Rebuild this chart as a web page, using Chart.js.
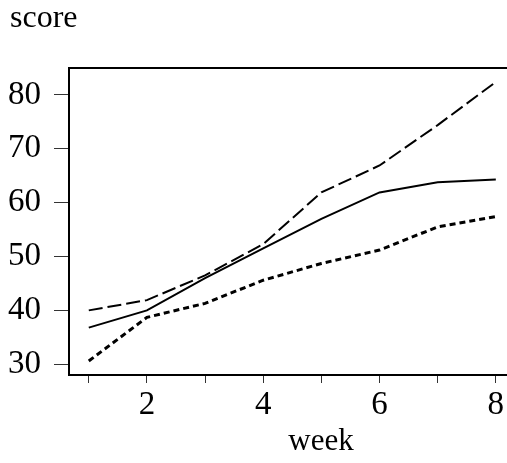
<!DOCTYPE html>
<html>
<head>
<meta charset="utf-8">
<script src="https://cdn.jsdelivr.net/npm/chart.js@4"></script>
<style>
  html, body { margin: 0; padding: 0; background: #fff; overflow: hidden; }
  #wrap { position: relative; width: 520px; height: 463px; }
</style>
</head>
<body>
<div id="wrap"><canvas id="scores"></canvas></div>
<script>
// donnees
var weeks = [1, 2, 3, 4, 5, 6, 7, 8];
var solidLine = [36.8, 40, 46, 51.5, 57, 61.9, 63.8, 64.3];
var dashLine = [40, 41.9, 46.5, 52.3, 61.9, 66.9, 74.4, 82.4];
var dotLine = [30.6, 38.7, 41.3, 45.6, 48.7, 51.2, 55.5, 57.4];
var xTicks = [1, 2, 3, 4, 5, 6, 7, 8];
var yTicks = [30, 40, 50, 60, 70, 80];

var serif = 'Liberation Serif';

function pts(vals) {
  return vals.map(function (v, i) { return { x: weeks[i], y: v }; });
}

// cadre + titres
var frame = {
  id: 'frame',
  afterDraw: function (chart) {
    var ctx = chart.ctx, a = chart.chartArea;
    ctx.save();
    ctx.strokeStyle = '#000';
    ctx.lineWidth = 2;
    ctx.strokeRect(a.left, a.top, a.right - a.left, a.bottom - a.top);
    ctx.fillStyle = '#000';
    ctx.textBaseline = 'alphabetic';
    ctx.font = '32px "' + serif + '"';
    ctx.textAlign = 'left';
    ctx.fillText('score', 10, 27);
    ctx.font = '31px "' + serif + '"';
    ctx.textAlign = 'center';
    ctx.fillText('week', 321, 450);
    ctx.restore();
  }
};

var canvas = document.getElementById('scores');
new Chart(canvas, {
  type: 'line',
  data: {
    datasets: [
      { data: pts(solidLine), borderColor: '#000', borderWidth: 2 },
      { data: pts(dashLine), borderColor: '#000', borderWidth: 2, borderDash: [14, 5] },
      { data: pts(dotLine), borderColor: '#000', borderWidth: 3, borderDash: [6, 4] }
    ]
  },
  options: {
    responsive: true,
    maintainAspectRatio: false,
    animation: false,
    layout: { padding: { top: 68, right: 5, left: 0, bottom: 0 } },
    elements: { point: { radius: 0 }, line: { tension: 0, fill: false } },
    plugins: { legend: { display: false }, tooltip: { enabled: false } },
    scales: {
      x: {
        type: 'linear',
        min: 0.66,
        max: 8.33,
        afterBuildTicks: function (s) { s.ticks = xTicks.map(function (v) { return { value: v }; }); },
        afterFit: function (s) { s.height = 88; },
        grid: { drawOnChartArea: false, tickLength: 8, color: '#333', lineWidth: 1 },
        border: { display: true, color: '#000', width: 2 },
        ticks: {
          color: '#000',
          padding: 3,
          maxRotation: 0,
          autoSkip: false,
          font: { family: serif, size: 33 },
          callback: function (v) { return v % 2 === 0 ? String(v) : ''; }
        }
      },
      y: {
        min: 28,
        max: 85,
        afterBuildTicks: function (s) { s.ticks = yTicks.map(function (v) { return { value: v }; }); },
        afterFit: function (s) { s.width = 69; },
        grid: { drawOnChartArea: false, tickLength: 15, color: '#333', lineWidth: 1 },
        border: { display: true, color: '#000', width: 2 },
        ticks: {
          color: '#000',
          padding: 13,
          autoSkip: false,
          font: { family: serif, size: 33 }
        }
      }
    }
  },
  plugins: [frame]
});
</script>
</body>
</html>
